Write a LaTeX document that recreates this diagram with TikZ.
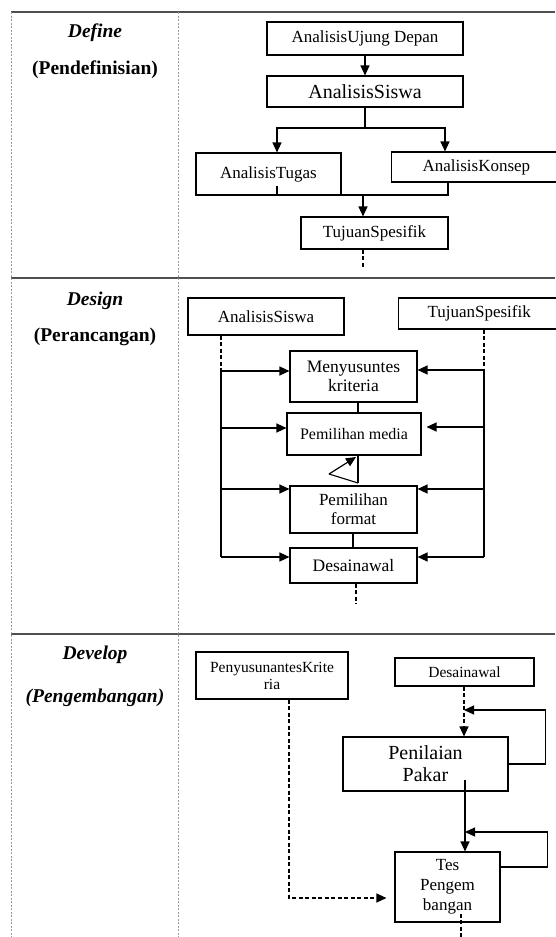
\documentclass[tikz,border=0pt]{standalone}
\usepackage{fontspec}
\setmainfont{Liberation Serif}
\usetikzlibrary{arrows.meta,positioning,calc}
\definecolor{rulegray}{HTML}{505050}
\definecolor{dashgray}{HTML}{9a9a9a}

\begin{document}
\begin{tikzpicture}[x=1pt,y=-1pt,font=\fontsize{17}{19}\selectfont,
  box/.style={draw,line width=1.1pt,align=center,inner sep=0pt},
  flow/.style={-{Triangle[length=10pt,width=9pt]},line width=1.2pt},
  dflow/.style={flow,dash pattern=on 4pt off 2.5pt},
  dline/.style={line width=1.1pt,dash pattern=on 4pt off 2.5pt},
  phase/.style={font=\fontsize{19.5}{22}\selectfont\bfseries},
  gridline/.style={line width=0.7pt,draw=dashgray,dash pattern=on 2pt off 1.5pt},
  rowline/.style={line width=1.6pt,draw=rulegray}]
\useasboundingbox (0,0) rectangle (555,937);

% table
\draw[rowline] (11,12) -- (555,12);
\draw[rowline] (11,278) -- (555,278);
\draw[rowline] (11,634) -- (555,634);
\draw[gridline] (11,12) -- (11,937);
\draw[gridline] (178,12) -- (178,937);

% phase names
\node[phase] (define) at (95,33) {\itshape Define};
\node[phase] (definei) at (95,70) {(Pendefinisian)};
\node[phase] (design) at (95,301) {\itshape Design};
\node[phase] (designi) at (95,337) {(Perancangan)};
\node[phase] (develop) at (95,655) {\itshape Develop};
\node[phase] (develi) at (95,698) {\itshape (Pengembangan)};

% define
\node[box,minimum width=196pt,minimum height=33pt] (ujung) at (365,38.5) {AnalisisUjung Depan};
\node[box,minimum width=196pt,minimum height=31pt,font=\fontsize{20}{22}\selectfont] (siswaA) at (365,91.5) {AnalisisSiswa};
\node[box,minimum width=145pt,minimum height=42pt] (tugas) at (268.5,174) {AnalisisTugas};
\node[box,anchor=west,minimum height=30pt,inner xsep=31pt,text width=138pt,align=left] (konsep) at (391,167) {AnalisisKonsep};
\node[box,minimum width=147pt,minimum height=32pt] (tujuanA) at (374.5,233) {TujuanSpesifik};
\coordinate (sp) at (365,128);
\coordinate (jn) at (363,195);
\draw[flow] (ujung) -- (siswaA);
\draw[line width=1.2pt] (siswaA.south) -- (sp);
\draw[flow] (sp) -| ($(tugas.north)+(8.5,0)$);
\draw[flow] (sp) -| (konsep.north -| 445,0);
\draw[line width=1.2pt] ($(tugas.south)+(8.5,-10)$) |- (448,195) -- (konsep.south -| 448,0);
\draw[flow] (jn) -- (tujuanA.north -| jn);
\draw[dline] (tujuanA.south -| jn) -- ++(0,19);

% design
\node[box,minimum width=156pt,minimum height=37pt] (siswaB) at (266,316.5) {AnalisisSiswa};
\node[box,anchor=west,minimum height=31pt,inner xsep=29pt,text width=142pt,align=left] (tujuanB) at (398,313.5) {TujuanSpesifik};
\node[box,minimum width=127pt,minimum height=51pt,font=\fontsize{17.5}{19}\selectfont] (kriteria) at (353.5,376.5) {Menyusuntes\\kriteria};
\node[box,minimum width=134pt,minimum height=42pt,font=\fontsize{16}{17}\selectfont] (media) at (354,434) {Pemilihan media};
\node[box,minimum width=127pt,minimum height=47pt] (format) at (353.5,509.5) {Pemilihan\\format};
\node[box,minimum width=127pt,minimum height=35pt,font=\fontsize{17.5}{19}\selectfont] (awalB) at (353.5,565.5) {Desainawal};
\coordinate (l1) at (221,371);
\coordinate (l2) at (221,428);
\coordinate (l3) at (221,489);
\coordinate (l4) at (221,557);
\coordinate (r1) at (484,370);
\coordinate (r2) at (484,427);
\coordinate (r3) at (484,489);
\coordinate (r4) at (484,557);
\draw[dline] (siswaB.south -| l1) -- (l1);
\draw[line width=1.2pt] (l1) -- (l4);
\draw[flow] (l1) -- (kriteria.west |- l1);
\draw[flow] (l2) -- (media.west |- l2);
\draw[flow] (l3) -- (format.west |- l3);
\draw[flow] (l4) -- (awalB.west |- l4);
\draw[dline] (tujuanB.south -| r1) -- (r1);
\draw[line width=1.2pt] (r1) -- (r4);
\draw[flow] (r1) -- (kriteria.east |- r1);
\draw[flow,shorten >=5pt] (r2) -- (media.east |- r2);
\draw[flow] (r3) -- (format.east |- r3);
\draw[flow] (r4) -- (awalB.east |- r4);
\coordinate (m1) at (358,0);
\coordinate (tb) at (358,483);
\coordinate (tl) at (329,474);
\draw[line width=1.1pt] (kriteria.south -| m1) -- (media.north -| m1);
\draw[line width=1.1pt] (tb) -- (media.south -| m1);
\draw[line width=1.1pt] (tl) -- (tb);
\draw[flow] (tl) -- (356,457);
\draw[line width=1.1pt] (format.south -| 353,0) -- (awalB.north -| 353,0);
\draw[dline] ($(awalB.south)+(2.5,0)$) -- ++(0,20);

% develop
\node[box,minimum width=152pt,minimum height=47pt,font=\fontsize{15.5}{17}\selectfont] (kritC) at (272,675.5) {PenyusunantesKrite\\ria};
\node[box,minimum width=139pt,minimum height=28pt,font=\fontsize{15.5}{17}\selectfont] (awalC) at (464.5,672) {Desainawal};
\node[box,minimum width=165pt,minimum height=54pt,font=\fontsize{20}{22}\selectfont] (pakar) at (425.5,764) {Penilaian\\Pakar};
\node[box,minimum width=105pt,minimum height=70pt,font=\fontsize{17}{20}\selectfont] (tes) at (447.5,887) {Tes\\Pengem\\bangan};
\coordinate (fb1) at (464,710);
\coordinate (fb2) at (465,832);
\draw[dflow] (awalC.south -| fb1) -- (pakar.north -| fb1);
\draw[flow] (pakar.east) -- ++(37,0) |- (fb1);
\draw[flow] ($(pakar.south)+(39.5,-12)$) -- (tes.north -| fb2);
\draw[flow] ($(tes.east)+(0,-20)$) -- ++(47,0) |- (fb2);
\draw[dflow,shorten >=8pt] ($(kritC.south)+(17,0)$) |- ($(tes.west)+(0,11)$);
\draw[dline] ($(tes.south)+(13.5,-9)$) -- ++(0,24);
\end{tikzpicture}
\end{document}
